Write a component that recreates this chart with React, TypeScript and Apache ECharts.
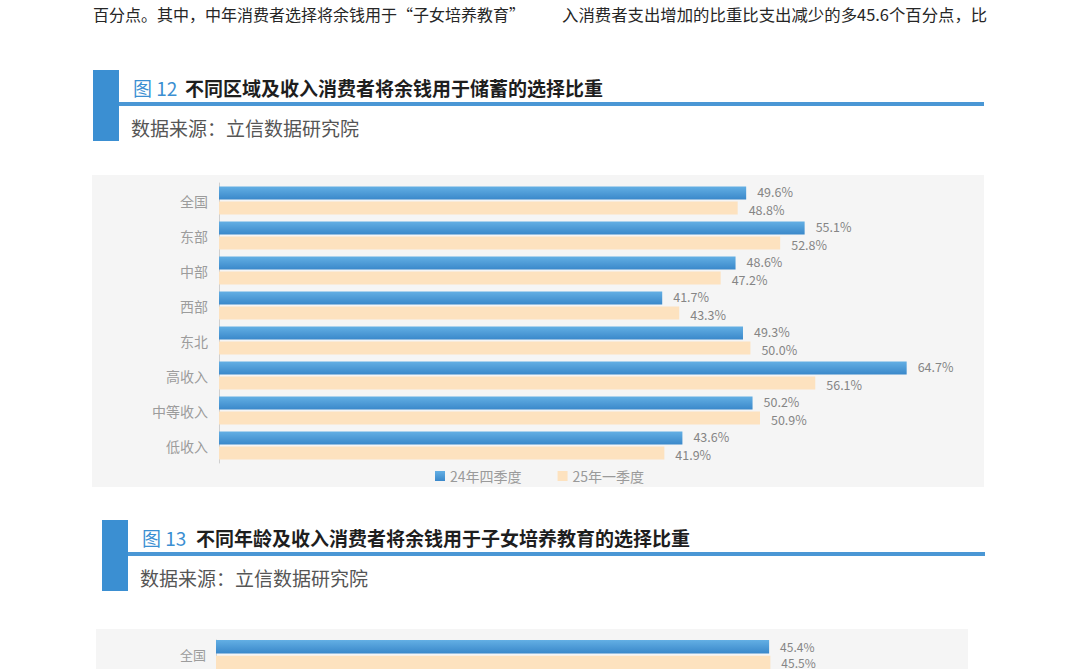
import { useEffect, useRef } from 'react';
import * as echarts from 'echarts';

// 图12 data
const categories12 = ['全国', '东部', '中部', '西部', '东北', '高收入', '中等收入', '低收入'];
const q4_2024_12 = [49.6, 55.1, 48.6, 41.7, 49.3, 64.7, 50.2, 43.6];
const q1_2025_12 = [48.8, 52.8, 47.2, 43.3, 50.0, 56.1, 50.9, 41.9];

// 图13 data (only the first row is visible)
const categories13 = ['全国'];
const q4_2024_13 = [45.4];
const q1_2025_13 = [45.5];

const seriesNames = ['24年四季度', '25年一季度'];

const FONT = '"Noto Sans CJK SC", "Noto Sans", sans-serif';
const BLUE = '#3b8fd2';

const blueFill = () =>
    new echarts.graphic.LinearGradient(0, 0, 0, 1, [
        { offset: 0, color: '#63afe4' },
        { offset: 1, color: '#3a88ca' },
    ]);
const beigeFill = '#fde2bf';

const pct = (p: any) => Number(p.value).toFixed(1) + '%';

function txt(x: number, y: number, text: string, fontSize: number, fill: string, fontWeight: any = 'normal') {
    return {
        type: 'text',
        x,
        y,
        z: 1,
        style: { text, fill, fontSize, fontWeight, fontFamily: FONT, verticalAlign: 'middle' },
    };
}

function header(bx: number, by: number, lineEnd: number, num: string, numX: number, title: string, titleX: number, subX: number) {
    return [
        { type: 'rect', z: 1, shape: { x: bx, y: by, width: 26, height: 71 }, style: { fill: BLUE } },
        { type: 'rect', z: 1, shape: { x: bx + 26, y: by + 32, width: lineEnd - bx - 26, height: 4 }, style: { fill: '#4a97d5' } },
        txt(numX, by + 17, num, 19, BLUE),
        txt(titleX, by + 17, title, 19, '#1e1e1e', 'bold'),
        txt(subX, by + 57, '数据来源：立信数据研究院', 19, '#555'),
    ];
}

// dy nudges the value label up (blue) or down (beige) so the stacked labels don't collide
function barSeries(name: string, data: number[], idx: number, fill: any, fontSize: number, barWidth: number, dy: number) {
    return {
        name,
        type: 'bar',
        xAxisIndex: idx,
        yAxisIndex: idx,
        data,
        barWidth,
        barGap: '15%',
        itemStyle: { color: fill },
        label: {
            show: true,
            position: 'right',
            distance: 11,
            offset: [0, dy],
            formatter: pct,
            color: '#858585',
            fontSize,
            lineHeight: fontSize,
            fontFamily: FONT,
        },
    };
}

export default function App() {
    const ref = useRef<HTMLDivElement>(null);

    useEffect(() => {
        if (!ref.current) return;
        const chart = echarts.init(ref.current, undefined, { renderer: 'svg' });

        const catAxis = (data: string[], idx: number, fontSize: number, margin: number) => ({
            type: 'category',
            gridIndex: idx,
            data,
            inverse: true,
            axisLine: { lineStyle: { color: '#cfcfcf', width: 1 } },
            axisTick: { show: false },
            axisLabel: { color: '#9c9c9c', fontSize, margin, fontFamily: FONT },
        });
        const valAxis = (idx: number, max: number) => ({
            type: 'value',
            gridIndex: idx,
            min: 0,
            max,
            show: false,
            splitLine: { show: false },
        });

        chart.setOption({
            animation: false,
            backgroundColor: '#ffffff',
            textStyle: { fontFamily: FONT },
            graphic: [
                // running text at the top of the page
                txt(93, 14, '百分点。其中，中年消费者选择将余钱用于“子女培养教育”', 16, '#262626'),
                txt(562, 14, '入消费者支出增加的比重比支出减少的多45.6个百分点，比', 16.4, '#262626'),
                ...header(93, 70, 984, '图 12', 133, '不同区域及收入消费者将余钱用于储蓄的选择比重', 185, 131),
                { type: 'rect', z: 0, shape: { x: 92, y: 175, width: 892, height: 312 }, style: { fill: '#f5f5f5' } },
                ...header(102, 520, 985, '图 13', 142, '不同年龄及收入消费者将余钱用于子女培养教育的选择比重', 196, 140),
                { type: 'rect', z: 0, shape: { x: 96, y: 629, width: 872, height: 60 }, style: { fill: '#f5f5f5' } },
            ],
            legend: {
                data: seriesNames,
                left: 430,
                top: 464,
                itemWidth: 10,
                itemHeight: 10,
                itemGap: 36,
                icon: 'rect',
                textStyle: { color: '#9a9a9a', fontSize: 14, fontFamily: FONT },
            },
            grid: [
                { left: 219, top: 183, width: 744, height: 280 },
                { left: 216, top: 640, width: 731, height: 40 },
            ],
            xAxis: [valAxis(0, 70), valAxis(1, 60)],
            yAxis: [catAxis(categories12, 0, 14, 11), catAxis(categories13, 1, 13, 10)],
            series: [
                barSeries(seriesNames[0], q4_2024_12, 0, blueFill(), 12.5, 13, -1.5),
                barSeries(seriesNames[1], q1_2025_12, 0, beigeFill, 12.5, 13, 1.5),
                barSeries(seriesNames[0], q4_2024_13, 1, blueFill(), 12, 15, -0.5),
                barSeries(seriesNames[1], q1_2025_13, 1, beigeFill, 12, 15, 0.5),
            ],
        });

        return () => {
            chart.dispose();
        };
    }, []);

    return (
        <div style={{ position: 'fixed', left: 0, top: 0, width: 1080, height: 669, overflow: 'hidden', background: '#fff' }}>
            <div ref={ref} style={{ width: 1080, height: 669 }} />
        </div>
    );
}
